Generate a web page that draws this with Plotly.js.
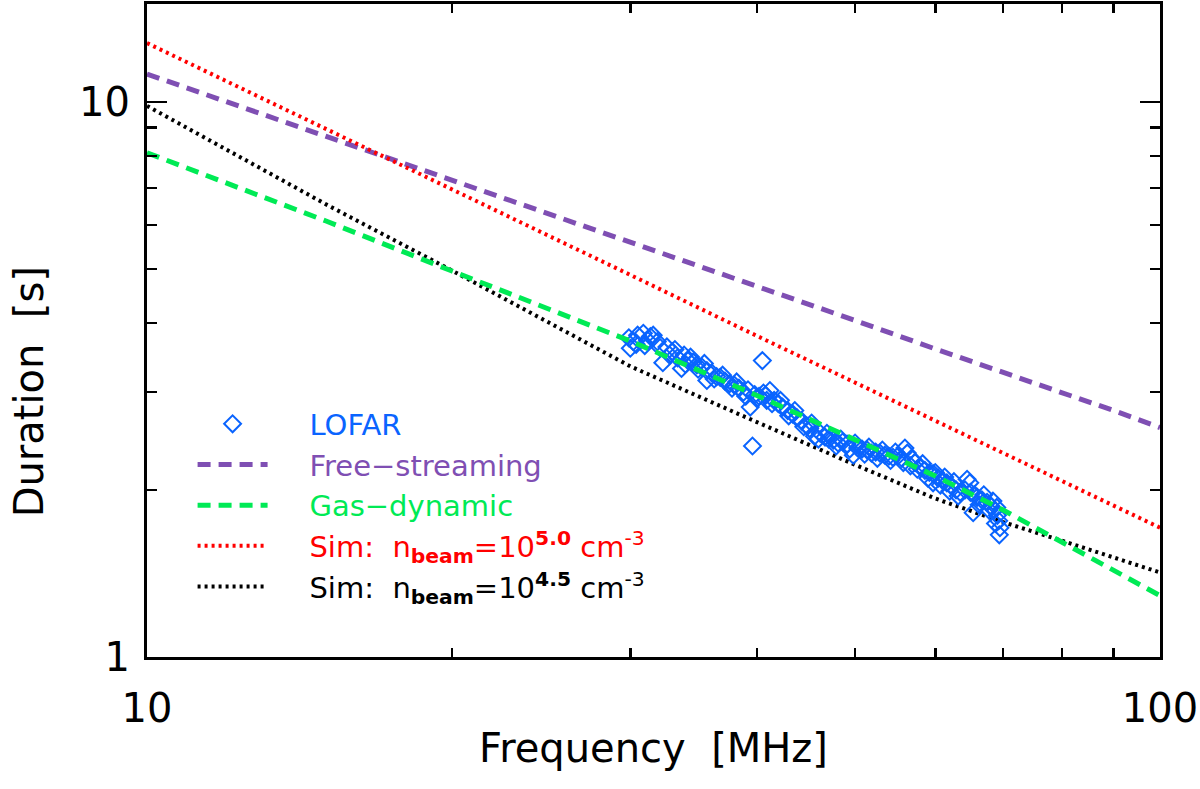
<!DOCTYPE html>
<html>
<head>
<meta charset="utf-8">
<script src="https://cdn.plot.ly/plotly-3.0.1.min.js"></script>
<style>
  html, body { margin: 0; padding: 0; background: #fff; }
  #chart { width: 1200px; height: 789px; }
</style>
</head>
<body>
<div id="chart"></div>
<script>
// 주파수별 버스트 지속시간 — LOFAR 관측 vs 모델/시뮬레이션 (log-log)
const C = {
  lofar: '#0a64ff', free: '#7f4fb3', gas: '#00ea55', simHi: '#ff0000', simLo: '#000000',
};
const FONT = '"DejaVu Sans", Verdana, sans-serif';

// 모델 곡선 샘플 주파수(MHz)
const modelFreq = [10, 15, 20, 30, 40, 50, 60, 70, 80, 90, 100];
const freeStreaming = [11.23, 8.69, 7.24, 5.60, 4.65, 4.04, 3.59, 3.26, 3.00, 2.78, 2.59];
const gasDynamic = [8.10, 6.11, 4.96, 3.71, 2.96, 2.47, 2.12, 1.84, 1.61, 1.43, 1.29];
const simBeam50 = [12.77, 8.96, 6.98, 4.88, 3.79, 3.12, 2.67, 2.33, 2.07, 1.87, 1.71];
const simBeam45 = [9.84, 6.55, 4.97, 3.34, 2.65, 2.22, 1.93, 1.75, 1.62, 1.51, 1.42];

// LOFAR 관측점 (MHz, s)
const lofarFreq = [
  29.9, 30.2, 30.0, 30.5, 30.9, 31.2, 31.0, 31.6, 31.9, 32.1, 32.3, 32.6, 33.0, 33.4, 33.7,
  33.9, 34.2, 34.6, 34.9, 35.3, 35.7, 35.7, 36.1, 36.5, 36.8, 37.2, 37.6, 38.0, 38.4, 38.8,
  39.0, 39.4, 39.6, 40.5, 39.8, 40.2, 40.6, 40.9, 41.2, 41.6, 42.0, 42.4, 42.9, 43.4, 43.8,
  44.3, 44.8, 45.1, 45.6, 46.2, 46.7, 47.1, 47.6, 48.1, 48.6, 49.1, 49.8, 50.3, 50.8, 51.4,
  51.9, 52.4, 52.9, 53.5, 54.0, 54.5, 55.1, 55.6, 56.3, 56.7, 57.3, 58.0, 58.6, 59.2, 59.7,
  59.7, 60.4, 61.0, 61.6, 62.3, 62.9, 63.5, 64.2, 64.9, 65.4, 65.6, 66.0, 66.7, 67.5, 68.1,
  68.6, 69.1, 69.3, 69.5, 69.4,
  30.4, 31.4, 32.8, 33.2, 34.0, 34.4, 35.0, 35.5, 36.3, 37.0, 37.8, 38.2, 39.2, 40.0, 40.8,
  41.4, 42.2, 43.0, 43.6, 44.5, 45.3, 46.0, 46.9, 47.9, 48.4, 49.4, 50.0, 51.1, 51.6, 52.6,
  53.2, 54.2, 54.8, 55.8, 56.0, 57.0, 57.6, 58.3, 59.0, 60.0, 60.7, 61.3, 62.0, 62.6, 63.2,
  64.5, 65.0, 66.3, 67.0, 67.8, 68.4, 69.0, 68.8,
];
const lofarDur = [
  3.76, 3.70, 3.60, 3.80, 3.83, 3.72, 3.64, 3.80, 3.70, 3.61, 3.39, 3.62, 3.55, 3.46, 3.31,
  3.50, 3.42, 3.40, 3.36, 3.33, 3.28, 3.15, 3.25, 3.20, 3.19, 3.14, 3.11, 3.09, 3.05, 3.00,
  2.95, 2.82, 2.40, 3.42, 2.97, 2.95, 2.99, 2.90, 3.02, 2.90, 2.86, 2.82, 2.78, 2.74, 2.70,
  2.66, 2.61, 2.58, 2.50, 2.53, 2.49, 2.47, 2.46, 2.43, 2.44, 2.42, 2.31, 2.38, 2.37, 2.36,
  2.33, 2.34, 2.33, 2.31, 2.30, 2.29, 2.30, 2.28, 2.33, 2.21, 2.24, 2.20, 2.17, 2.15, 2.06,
  2.14, 2.10, 2.08, 2.06, 2.03, 2.00, 1.98, 2.00, 2.06, 1.82, 1.96, 1.94, 1.92, 1.90, 1.87,
  1.84, 1.80, 1.76, 1.71, 1.66,
  3.66, 3.78, 3.50, 3.58, 3.37, 3.47, 3.30, 3.38, 3.17, 3.22, 3.05, 3.13, 3.03, 2.92, 2.96,
  2.86, 2.90, 2.72, 2.78, 2.60, 2.64, 2.47, 2.53, 2.40, 2.47, 2.37, 2.43, 2.32, 2.39, 2.28,
  2.36, 2.26, 2.34, 2.24, 2.38, 2.27, 2.18, 2.23, 2.10, 2.15, 2.04, 2.11, 1.99, 2.07, 1.95,
  2.09, 1.98, 1.88, 1.96, 1.84, 1.91, 1.86, 1.74,
];

const pad = '\u00a0\u00a0\u00a0\u00a0';
const lbl = (color, html) => `<span style="color:${color}">${pad}${html}</span>`;
const simName = (exp) =>
  `Sim:  n<sub><b>beam</b></sub>=10<sup><b>${exp}</b></sup> cm<sup>-3</sup>`;

const modelLine = (y, name, color, dash, rank, width = 5) => ({
  x: modelFreq, y, name: lbl(color, name), mode: 'lines', legendrank: rank,
  line: { color, width, dash }, hoverinfo: 'skip',
});

const traces = [
  modelLine(freeStreaming, 'Free\u2212streaming', C.free, '13px,8px', 2),
  modelLine(simBeam50, simName('5.0'), C.simHi, '3px,4px', 4, 4),
  modelLine(simBeam45, simName('4.5'), C.simLo, '3px,4px', 5, 4),
  {
    x: lofarFreq, y: lofarDur, name: lbl(C.lofar, 'LOFAR'), mode: 'markers', legendrank: 1,
    marker: { symbol: 'diamond-open', size: 13, color: C.lofar, line: { width: 2, color: C.lofar } },
  },
  modelLine(gasDynamic, 'Gas\u2212dynamic', C.gas, '13px,8px', 3),
];

const axisBase = {
  type: 'log', showgrid: false, zeroline: false,
  showline: true, linecolor: '#000', linewidth: 3, mirror: 'ticks',
  ticks: 'inside', ticklen: 20, tickwidth: 2.5, tickcolor: '#000',
  tickfont: { family: FONT, size: 40, color: '#000' },
};

const layout = {
  width: 1200, height: 789,
  paper_bgcolor: '#fff', plot_bgcolor: '#fff',
  font: { family: FONT, color: '#000' },
  margin: { l: 147, r: 40, t: 4, b: 132 },
  showlegend: true,
  legend: {
    x: 0.045, y: 0.396, xanchor: 'left', yanchor: 'top',
    bgcolor: 'rgba(0,0,0,0)', borderwidth: 0,
    font: { family: FONT, size: 29 }, itemwidth: 70, tracegroupgap: 0,
  },
  xaxis: {
    ...axisBase, range: [1, 2],
    tickvals: [10, 100], ticktext: ['10', '100'], ticklabelstandoff: 14,
    minor: { tickvals: [20, 30, 40, 50, 60, 70, 80, 90], ticks: 'inside', ticklen: 9, tickwidth: 2.5, tickcolor: '#000' },
    title: { text: 'Frequency  [MHz]', font: { family: FONT, size: 40 }, standoff: 4 },
  },
  yaxis: {
    ...axisBase, range: [0, 1.1766],
    tickvals: [1, 10], ticktext: ['1', '10'], ticklabelstandoff: 6,
    minor: { tickvals: [2, 3, 4, 5, 6, 7, 8, 9], ticks: 'inside', ticklen: 10, tickwidth: 2.5, tickcolor: '#000' },
  },
  annotations: [{
    text: 'Duration  [s]', xref: 'paper', yref: 'paper', x: -0.117, y: 0.406,
    xanchor: 'center', yanchor: 'middle', textangle: -90, showarrow: false,
    font: { family: FONT, size: 40, color: '#000' },
  }],
};

Plotly.newPlot('chart', traces, layout, { displayModeBar: false, staticPlot: true });
</script>
</body>
</html>
